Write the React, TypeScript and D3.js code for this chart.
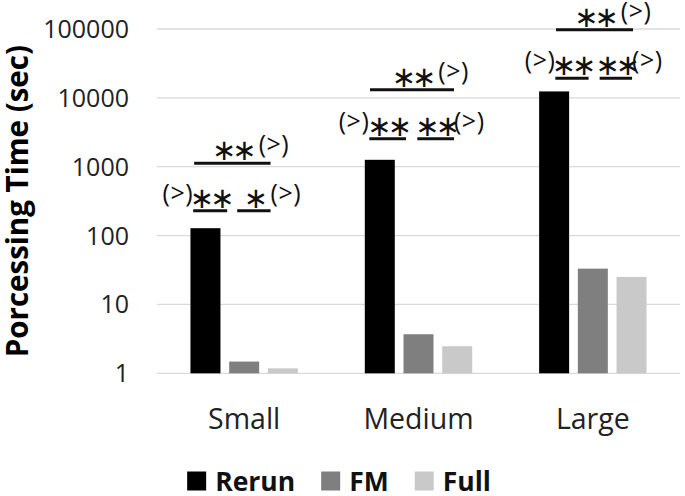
import { useEffect, useRef } from "react";
import * as d3 from "d3";

const categories = ["Small", "Medium", "Large"];
const seriesNames = ["Rerun", "FM", "Full"];
const rerun = [128, 1260, 12400];
const fm = [1.48, 3.69, 33.1];
const full = [1.18, 2.47, 25.1];
const yTicks = [1, 10, 100, 1000, 10000, 100000];

// significance marks: Rerun vs FM and FM vs Full on the lower row, Rerun vs Full above
const starsRerunFM = ["∗∗", "∗∗", "∗∗"];
const starsFMFull = ["∗", "∗∗", "∗∗"];
const starsRerunFull = ["∗∗", "∗∗", "∗∗"];
const lowerLevel = [229, 2540, 19300];
const upperLevel = [1120, 13100, 97800];

// hand placed bracket spans, px from the group centre
const spans = [
  { a: [-51, -17], b: [-7, 26.4], u: [-50, 26.4] },
  { a: [-49.2, -12.5], b: [-1.2, 35.5], u: [-48.5, 35.5] },
  { a: [-37.5, -4.2], b: [6.8, 39.2], u: [-36.8, 40.2] },
];

const colors = ["#000000", "#7f7f7f", "#c9c9c9"];
const FONT = "'Open Sans', sans-serif";
const STAR_FONT = "'DejaVu Sans', sans-serif";

export default function App() {
  const ref = useRef<SVGSVGElement>(null);

  useEffect(() => {
    const svg = d3.select(ref.current);
    svg.selectAll("*").remove();
    const L = 157, R = 680;
    const x0 = d3.scaleBand().domain(categories).range([L, R]);
    const x1 = d3.scaleBand().domain(seriesNames).range([-53.7, 53.7]).paddingInner(0.225);
    const y = d3.scaleLog().domain([1, 100000]).range([373.3, 29]);
    const cx = (c: string) => (x0(c) as number) + x0.bandwidth() / 2;

    // grid
    svg.append("g").selectAll("line").data(yTicks).join("line")
      .attr("x1", L).attr("x2", R)
      .attr("y1", d => y(d)).attr("y2", d => y(d))
      .attr("stroke", "#d9d9d9").attr("stroke-width", 1.3);

    svg.append("g").selectAll("text").data(yTicks).join("text")
      .attr("x", 129).attr("y", d => y(d) + 9)
      .attr("text-anchor", "end")
      .attr("font-family", FONT).attr("font-size", 25).attr("fill", "#222")
      .text(d => String(d));

    svg.append("text")
      .attr("transform", `translate(28 ${(y(1) + y(100000)) / 2}) rotate(-90)`)
      .attr("text-anchor", "middle")
      .attr("font-family", FONT).attr("font-size", 29.5).attr("font-weight", 700).attr("fill", "#000")
      .text("Porcessing Time (sec)");

    // bars
    const vals = [rerun, fm, full];
    seriesNames.forEach((s, si) => {
      svg.append("g").selectAll("rect").data(categories).join("rect")
        .attr("x", c => cx(c) + (x1(s) as number))
        .attr("width", x1.bandwidth())
        .attr("y", (c, i) => y(vals[si][i]))
        .attr("height", (c, i) => y(1) - y(vals[si][i]))
        .attr("fill", colors[si]);
    });

    svg.append("g").selectAll("text").data(categories).join("text")
      .attr("x", c => cx(c)).attr("y", 428.5)
      .attr("text-anchor", "middle")
      .attr("font-family", FONT).attr("font-size", 28.5).attr("fill", "#222")
      .text(c => c);

    // significance brackets
    const g = svg.append("g");
    const bracket = (x0p: number, x1p: number, ly: number, stars: string) => {
      g.append("line").attr("x1", x0p).attr("x2", x1p).attr("y1", ly).attr("y2", ly)
        .attr("stroke", "#111").attr("stroke-width", 3);
      return g.append("text").attr("x", (x0p + x1p) / 2).attr("y", ly - 3)
        .attr("text-anchor", "middle")
        .attr("font-family", STAR_FONT).attr("font-size", 29).attr("letter-spacing", -4)
        .attr("fill", "#111").text(stars);
    };
    const gt = (x: number, by: number, anchor: string) =>
      g.append("text").attr("x", x).attr("y", by).attr("text-anchor", anchor)
        .attr("font-family", FONT).attr("font-size", 25).attr("letter-spacing", 0.5)
        .attr("fill", "#111").text("(>)");

    categories.forEach((c, i) => {
      const m = cx(c), sp = spans[i];
      const ly = y(lowerLevel[i]), uy = y(upperLevel[i]);
      bracket(m + sp.a[0], m + sp.a[1], ly, starsRerunFM[i]);
      bracket(m + sp.b[0], m + sp.b[1], ly, starsFMFull[i]);
      gt(m + sp.a[0], ly - 9, "end");
      gt(m + sp.b[1], ly - 9, "start");
      const t = bracket(m + sp.u[0], m + sp.u[1], uy, starsRerunFull[i]);
      const w = (t.node() as SVGTextElement).getComputedTextLength();
      gt((m + (sp.u[0] + sp.u[1]) / 2) + w / 2 + 6, uy - 10, "start");
    });

    // legend
    const lg = svg.append("g");
    const items = seriesNames.map((s, i) => {
      const t = lg.append("text").attr("y", 490.5)
        .attr("font-family", FONT).attr("font-size", 26.5).attr("font-weight", 700).attr("fill", "#111")
        .text(s);
      const r = lg.append("rect").attr("y", 471.5).attr("width", 19).attr("height", 19).attr("fill", colors[i]);
      return { t, r, w: (t.node() as SVGTextElement).getComputedTextLength() };
    });
    const sq = 19, gap = 9, space = 26;
    const total = d3.sum(items, d => sq + gap + d.w) + space * (items.length - 1);
    let xx = 339 - total / 2;
    items.forEach(d => {
      d.r.attr("x", xx);
      d.t.attr("x", xx + sq + gap);
      xx += sq + gap + d.w + space;
    });
  }, []);

  return (
    <div style={{ position: "absolute", left: 0, top: 0 }}>
      <svg ref={ref} width={685} height={496} style={{ display: "block", background: "#fff" }} />
    </div>
  );
}
